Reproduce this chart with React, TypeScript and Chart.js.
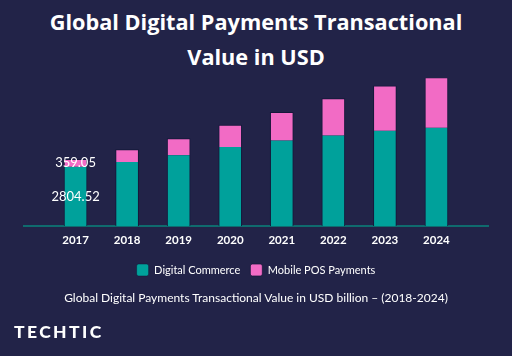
import React, { useEffect, useRef } from "react";
import { Chart, registerables } from "chart.js";

Chart.register(...registerables);

const years = ["2017", "2018", "2019", "2020", "2021", "2022", "2023", "2024"];
const digitalCommerce = [2804.52, 3030, 3350, 3740, 4045, 4280, 4510, 4650];
const mobilePOS = [359.05, 590, 790, 1040, 1335, 1750, 2125, 2370];
const labelledYears = ["2017"];
const titleLines = ["Global Digital Payments Transactional", "Value in USD"];
const caption = "Global Digital Payments Transactional Value in USD billion – (2018-2024)";

const BG = "#222348";
const TEAL = "#00a19b";
const PINK = "#f26bc5";

const valueLabels = {
  id: "valueLabels",
  afterDatasetsDraw(chart: any) {
    const ctx = chart.ctx;
    ctx.save();
    ctx.font = "13px Lato";
    ctx.fillStyle = "#ffffff";
    ctx.textAlign = "center";
    ctx.textBaseline = "middle";
    chart.data.datasets.forEach((ds: any, di: number) => {
      const meta = chart.getDatasetMeta(di);
      chart.data.labels.forEach((lab: string, i: number) => {
        if (!labelledYears.includes(lab)) return;
        const v = ds.data[i];
        const el = meta.data[i];
        if (v == null || !el) return;
        const { x, y, base } = el.getProps(["x", "y", "base"], true);
        ctx.fillText(Number(v).toFixed(2), x, (y + base) / 2);
      });
    });
    ctx.restore();
  },
};

export default function App() {
  const ref = useRef<HTMLCanvasElement>(null);
  useEffect(() => {
    if (!ref.current) return;
    const labels = ["", ...years, ""];
    const pad = (a: number[]) => [null, ...a, null];
    const chart = new Chart(ref.current, {
      type: "bar",
      data: {
        labels,
        datasets: [
          {
            label: "Digital Commerce",
            data: pad(digitalCommerce),
            backgroundColor: TEAL,
            borderColor: "#15173a",
            borderWidth: { left: 1, right: 1, top: 0, bottom: 0 },
            borderSkipped: false,
            barThickness: 23,
          },
          {
            label: "Mobile POS Payments",
            data: pad(mobilePOS),
            backgroundColor: PINK,
            borderColor: "#15173a",
            borderWidth: { left: 1, right: 1, top: 1, bottom: 0 },
            borderSkipped: false,
            barThickness: 23,
          },
        ],
      },
      options: {
        animation: false,
        responsive: true,
        maintainAspectRatio: false,
        layout: { padding: { top: 78, left: 24, right: 24, bottom: 70 } },
        scales: {
          x: {
            stacked: true,
            offset: false,
            grid: { display: false, drawTicks: false },
            border: { display: true, color: "#0f6b6e", width: 2 },
            ticks: {
              color: "#ffffff",
              font: { family: "Lato", size: 11.5, weight: "bold" },
              padding: 7,
              autoSkip: false,
              maxRotation: 0,
            },
          },
          y: {
            stacked: true,
            display: false,
            min: 0,
            max: 7000,
          },
        },
        plugins: {
          title: { display: false },
          tooltip: { enabled: false },
          legend: {
            display: true,
            position: "bottom",
            labels: {
              color: "#ffffff",
              font: { family: "Lato", size: 11 },
              boxWidth: 12,
              boxHeight: 12,
              useBorderRadius: true,
              borderRadius: 2,
              padding: 10,
            },
          },
        },
      },
      plugins: [valueLabels],
    });
    return () => chart.destroy();
  }, []);

  return (
    <div
      style={{
        position: "fixed",
        left: 0,
        top: 0,
        width: 512,
        height: 356,
        background: BG,
        overflow: "hidden",
        fontFamily: "Lato, sans-serif",
      }}
    >
      <div
        style={{
          position: "absolute",
          top: 4,
          left: 0,
          width: 512,
          textAlign: "center",
          color: "#ffffff",
          fontFamily: "'Open Sans', sans-serif",
          fontWeight: 700,
          fontSize: 21.7,
          lineHeight: "35px",
        }}
      >
        {titleLines.map((l, i) => (
          <div key={i}>{l}</div>
        ))}
      </div>
      <canvas ref={ref} style={{ position: "absolute", left: 0, top: 0, width: 512, height: 356 }} />
      <div
        style={{
          position: "absolute",
          top: 290,
          left: 0,
          width: 512,
          textAlign: "center",
          color: "#ffffff",
          fontSize: 12,
          lineHeight: "16px",
        }}
      >
        {caption}
      </div>
      <div
        style={{
          position: "absolute",
          top: 320,
          left: 14,
          color: "#ffffff",
          fontWeight: 900,
          fontSize: 17.5,
          letterSpacing: 2.4,
          lineHeight: "24px",
        }}
      >
        TECHTIC
      </div>
    </div>
  );
}
